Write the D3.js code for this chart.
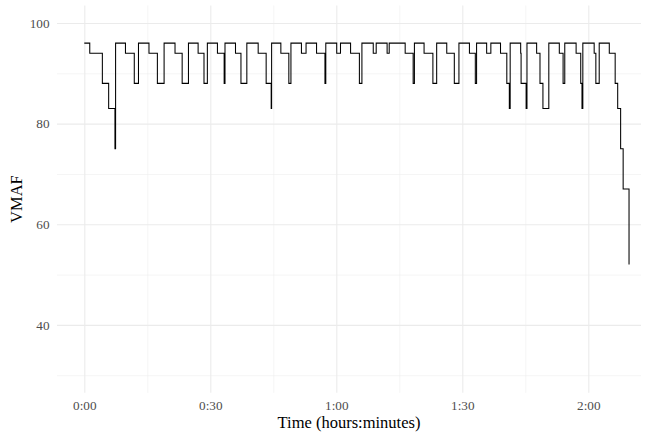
<!DOCTYPE html>
<html>
<head>
<meta charset="utf-8">
<script src="https://cdn.jsdelivr.net/npm/d3@7"></script>
<style>
  body { margin: 0; background: #fff; }
  svg { display: block; font-family: "Liberation Serif", "DejaVu Serif", serif; }
</style>
</head>
<body>
<div class="container"></div>
<script>
// segment start (minutes into the video) and the VMAF of that segment
const startMinutes = [0, 1.3, 4.3, 5.8, 7.3, 7.45, 9.8, 11.9, 12.9, 15.4, 17.4, 19.0, 21.6, 23.3,
  24.8, 27.1, 28.5, 29.3, 31.7, 33.3, 33.5, 36.0, 37.3, 38.7, 41.4, 43.3, 44.5, 44.6, 46.8, 48.7,
  49.2, 51.7, 52.8, 55.3, 57.3, 57.5, 60.1, 61.0, 63.4, 65.5, 66.1, 68.8, 69.5, 72.1, 72.6, 76.4,
  78.3, 78.6, 80.9, 83.0, 83.9, 86.3, 88.1, 89.2, 91.7, 93.1, 93.4, 95.8, 96.8, 99.1, 100.6, 101.2,
  101.4, 103.9, 104.0, 105.2, 105.4, 107.7, 108.5, 109.2, 110.6, 113.1, 114.0, 114.4, 117.1, 118.2,
  118.5, 118.7, 121.4, 121.8, 122.6, 125.0, 126.4, 127.0, 127.7, 128.3, 129.7]
const vmaf = [96, 94, 88, 83, 75, 96, 94, 88, 96, 94, 88, 96, 94, 88,
  96, 94, 88, 96, 94, 88, 96, 94, 88, 96, 94, 88, 83, 96, 94, 88,
  96, 94, 96, 94, 88, 96, 94, 96, 94, 88, 96, 94, 96, 94, 96, 94,
  88, 96, 94, 88, 96, 94, 88, 96, 94, 88, 96, 94, 96, 94, 88, 83,
  96, 94, 88, 83, 96, 94, 88, 83, 96, 94, 88, 96, 94, 88,
  83, 96, 94, 88, 96, 94, 88, 83, 75, 67, 52]

const xMajor = [0, 30, 60, 90, 120]
const xMajorLabels = ["0:00", "0:30", "1:00", "1:30", "2:00"]
const xMinor = [15, 45, 75, 105]
const yMajor = [40, 60, 80, 100]
const yMinor = [30, 50, 70, 90]

const width = 649, height = 432
const pLeft = 57, pRight = 641, pTop = 5.4, pBottom = 392.8

const data = startMinutes.map((t, i) => ({t: t, v: vmaf[i]}))

const xScale = d3.scaleLinear().domain([-6.5, 132.55]).range([pLeft, pRight])
const yScale = d3.scaleLinear().domain([26.5, 103.5]).range([pBottom, pTop])

const svg = d3.select(".container").append("svg").attr("width", width).attr("height", height)

// grid, minor first then major
const gridX = (vals, w) => svg.append("g")
  .attr("transform", "translate(0," + pBottom + ")")
  .call(d3.axisBottom(xScale).tickValues(vals).tickSize(-(pBottom - pTop)).tickFormat(""))
  .call(g => g.select(".domain").remove())
  .call(g => g.selectAll("line").attr("stroke", "#ebebeb").attr("stroke-width", w))
const gridY = (vals, w) => svg.append("g")
  .attr("transform", "translate(" + pLeft + ",0)")
  .call(d3.axisLeft(yScale).tickValues(vals).tickSize(-(pRight - pLeft)).tickFormat(""))
  .call(g => g.select(".domain").remove())
  .call(g => g.selectAll("line").attr("stroke", "#ebebeb").attr("stroke-width", w))
gridX(xMinor, 0.55)
gridY(yMinor, 0.55)
gridX(xMajor, 1.1)
gridY(yMajor, 1.1)

// tick labels
svg.append("g")
  .attr("transform", "translate(0," + pBottom + ")")
  .call(d3.axisBottom(xScale).tickValues(xMajor).tickSize(0).tickPadding(7.5)
    .tickFormat((d, i) => xMajorLabels[i]))
  .call(g => g.select(".domain").remove())
  .call(g => g.selectAll("text").attr("fill", "#4d4d4d").style("font-size", "13.2px")
    .style("font-family", "Liberation Serif"))

svg.append("g")
  .attr("transform", "translate(" + pLeft + ",0)")
  .call(d3.axisLeft(yScale).tickValues(yMajor).tickSize(0).tickPadding(7.5))
  .call(g => g.select(".domain").remove())
  .call(g => g.selectAll("text").attr("fill", "#4d4d4d").style("font-size", "13.2px")
    .style("font-family", "Liberation Serif"))

// the step line
const line = d3.line()
  .x(d => xScale(d.t))
  .y(d => yScale(d.v))
  .curve(d3.curveStepAfter)
svg.append("path")
  .datum(data)
  .attr("fill", "none")
  .attr("stroke", "black")
  .attr("stroke-width", 1.05)
  .attr("d", line)

// axis titles
svg.append("text")
  .text("Time (hours:minutes)")
  .attr("x", (pLeft + pRight) / 2)
  .attr("y", 428)
  .attr("text-anchor", "middle")
  .style("font-size", "16.5px")
  .attr("fill", "black")
svg.append("text")
  .text("VMAF")
  .attr("transform", "translate(21.5," + ((pTop + pBottom) / 2) + ") rotate(-90)")
  .attr("text-anchor", "middle")
  .style("font-size", "16.5px")
  .attr("fill", "black")
</script>
</body>
</html>
